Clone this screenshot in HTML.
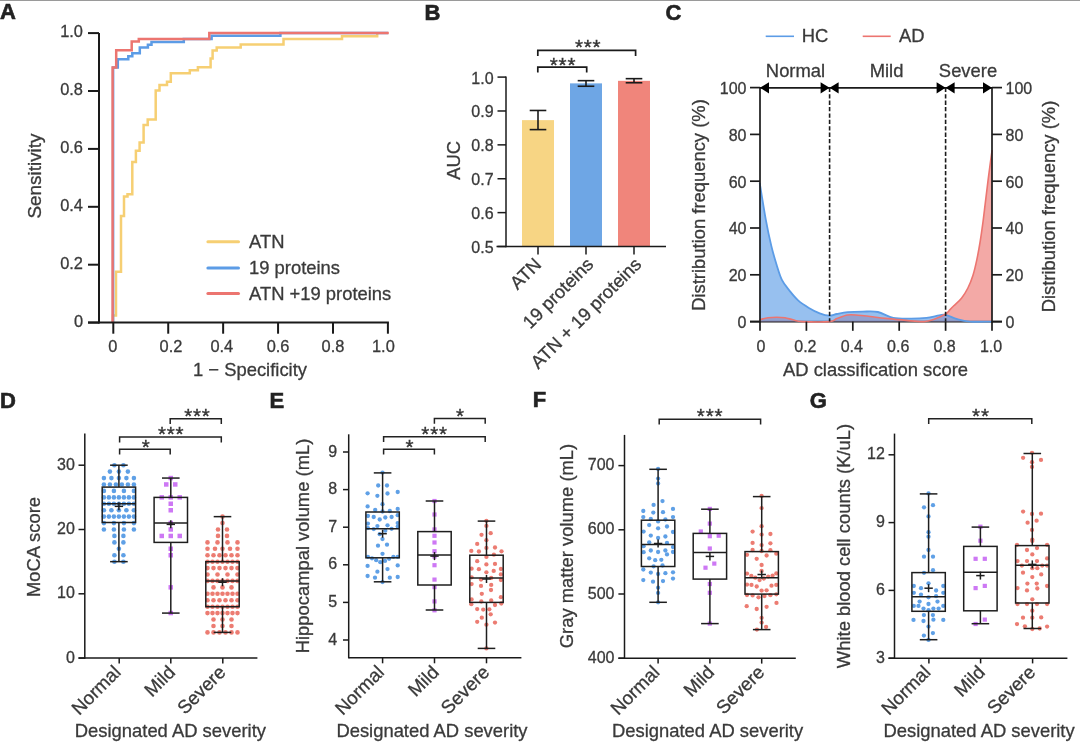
<!DOCTYPE html>
<html><head><meta charset="utf-8"><style>
html,body{margin:0;padding:0;background:#fff;}
svg{display:block;}
</style></head><body>
<svg width="1080" height="743" viewBox="0 0 1080 743" font-family="Liberation Sans, Arial, sans-serif">
<rect width="1080" height="743" fill="#fff"/>
<rect x="0.00" y="0.00" width="1080.00" height="1.00" fill="#9a9a9a" />
<text x="0.00" y="19.30" font-size="22" text-anchor="start" fill="#222" font-weight="bold" stroke="#222" stroke-width="0.6">A</text>
<path d="M113.00,322.60 L113.00,315.60 L116.00,315.60 L116.00,271.70 L121.00,271.70 L121.00,216.00 L124.00,216.00 L124.00,196.60 L127.50,196.60 L127.50,194.30 L132.00,194.30 L132.30,194.30 L132.30,162.10 L135.90,162.10 L135.90,150.80 L139.60,150.80 L139.60,142.40 L143.60,142.40 L143.60,124.90 L147.70,124.90 L147.70,119.50 L155.70,119.50 L155.70,90.40 L159.50,90.40 L159.50,85.00 L167.00,85.00 L167.00,81.80 L170.80,81.80 L170.80,73.20 L189.80,73.20 L189.80,70.20 L197.90,70.20 L197.90,67.20 L210.60,67.20 L210.60,58.60 L212.60,58.60 L212.60,50.50 L216.70,50.50 L216.70,47.40 L240.70,47.40 L240.70,44.60 L283.50,44.60 L283.50,38.90 L342.00,38.90 L342.00,36.20 L377.20,36.20 L377.20,33.10" stroke="#f6cf73" stroke-width="2.5" fill="none" />
<path d="M113.10,322.60 L113.10,67.40 L117.80,67.40 L117.80,59.30 L128.30,59.30 L128.30,56.30 L132.30,56.30 L132.30,53.30 L139.80,53.30 L139.80,47.60 L147.90,47.60 L147.90,44.80 L151.50,44.80 L151.50,42.00 L183.80,42.00 L183.80,38.90 L211.60,38.90 L211.60,35.80 L280.40,35.80 L280.40,33.10 L388.00,33.10" stroke="#5c9ce6" stroke-width="2.5" fill="none" />
<path d="M112.60,322.60 L112.60,67.40 L116.20,67.40 L116.20,50.20 L131.70,50.20 L131.70,41.60 L138.80,41.60 L138.80,38.90 L209.30,38.90 L209.30,33.10 L388.80,33.10" stroke="#ec7570" stroke-width="2.5" fill="none" />
<line x1="99.00" y1="33.10" x2="99.00" y2="323.50" stroke="#1a1a1a" stroke-width="2" />
<line x1="88.00" y1="322.60" x2="388.90" y2="322.60" stroke="#1a1a1a" stroke-width="2" />
<line x1="88.00" y1="322.60" x2="99.00" y2="322.60" stroke="#1a1a1a" stroke-width="2" />
<text x="83.00" y="326.80" font-size="16.4" text-anchor="end" fill="#3a3a3a"  stroke="#3a3a3a" stroke-width="0.3">0</text>
<line x1="113.30" y1="322.60" x2="113.30" y2="333.70" stroke="#1a1a1a" stroke-width="2" />
<text x="112.80" y="352.00" font-size="16.4" text-anchor="middle" fill="#3a3a3a"  stroke="#3a3a3a" stroke-width="0.3">0</text>
<line x1="88.00" y1="264.70" x2="99.00" y2="264.70" stroke="#1a1a1a" stroke-width="2" />
<text x="83.00" y="268.90" font-size="16.4" text-anchor="end" fill="#3a3a3a"  stroke="#3a3a3a" stroke-width="0.3">0.2</text>
<line x1="168.22" y1="322.60" x2="168.22" y2="333.70" stroke="#1a1a1a" stroke-width="2" />
<text x="171.02" y="352.00" font-size="16.4" text-anchor="middle" fill="#3a3a3a"  stroke="#3a3a3a" stroke-width="0.3">0.2</text>
<line x1="88.00" y1="206.80" x2="99.00" y2="206.80" stroke="#1a1a1a" stroke-width="2" />
<text x="83.00" y="211.00" font-size="16.4" text-anchor="end" fill="#3a3a3a"  stroke="#3a3a3a" stroke-width="0.3">0.4</text>
<line x1="223.14" y1="322.60" x2="223.14" y2="333.70" stroke="#1a1a1a" stroke-width="2" />
<text x="221.84" y="352.00" font-size="16.4" text-anchor="middle" fill="#3a3a3a"  stroke="#3a3a3a" stroke-width="0.3">0.4</text>
<line x1="88.00" y1="148.90" x2="99.00" y2="148.90" stroke="#1a1a1a" stroke-width="2" />
<text x="83.00" y="153.10" font-size="16.4" text-anchor="end" fill="#3a3a3a"  stroke="#3a3a3a" stroke-width="0.3">0.6</text>
<line x1="278.06" y1="322.60" x2="278.06" y2="333.70" stroke="#1a1a1a" stroke-width="2" />
<text x="278.06" y="352.00" font-size="16.4" text-anchor="middle" fill="#3a3a3a"  stroke="#3a3a3a" stroke-width="0.3">0.6</text>
<line x1="88.00" y1="91.00" x2="99.00" y2="91.00" stroke="#1a1a1a" stroke-width="2" />
<text x="83.00" y="95.20" font-size="16.4" text-anchor="end" fill="#3a3a3a"  stroke="#3a3a3a" stroke-width="0.3">0.8</text>
<line x1="332.98" y1="322.60" x2="332.98" y2="333.70" stroke="#1a1a1a" stroke-width="2" />
<text x="332.98" y="352.00" font-size="16.4" text-anchor="middle" fill="#3a3a3a"  stroke="#3a3a3a" stroke-width="0.3">0.8</text>
<line x1="88.00" y1="33.10" x2="99.00" y2="33.10" stroke="#1a1a1a" stroke-width="2" />
<text x="83.00" y="37.30" font-size="16.4" text-anchor="end" fill="#3a3a3a"  stroke="#3a3a3a" stroke-width="0.3">1.0</text>
<line x1="387.90" y1="322.60" x2="387.90" y2="333.70" stroke="#1a1a1a" stroke-width="2" />
<text x="383.40" y="352.00" font-size="16.4" text-anchor="middle" fill="#3a3a3a"  stroke="#3a3a3a" stroke-width="0.3">1.0</text>
<text x="250.00" y="376.20" font-size="18.4" text-anchor="middle" fill="#3a3a3a"  stroke="#3a3a3a" stroke-width="0.3">1 − Specificity</text>
<text x="40.60" y="176.00" font-size="18.9" text-anchor="middle" fill="#3a3a3a" transform="rotate(-90 40.60 176.00)"  stroke="#3a3a3a" stroke-width="0.3">Sensitivity</text>
<line x1="207.90" y1="241.70" x2="238.50" y2="241.70" stroke="#f6cf73" stroke-width="3" stroke-linecap="round"/>
<text x="249.00" y="247.70" font-size="18.4" text-anchor="start" fill="#3a3a3a"  stroke="#3a3a3a" stroke-width="0.3">ATN</text>
<line x1="207.90" y1="268.10" x2="238.50" y2="268.10" stroke="#5c9ce6" stroke-width="3" stroke-linecap="round"/>
<text x="249.00" y="274.10" font-size="18.4" text-anchor="start" fill="#3a3a3a"  stroke="#3a3a3a" stroke-width="0.3">19 proteins</text>
<line x1="207.90" y1="293.50" x2="238.50" y2="293.50" stroke="#ec7570" stroke-width="3" stroke-linecap="round"/>
<text x="249.00" y="299.50" font-size="18.4" text-anchor="start" fill="#3a3a3a"  stroke="#3a3a3a" stroke-width="0.3">ATN +19 proteins</text>
<text x="424.50" y="19.50" font-size="22" text-anchor="start" fill="#222" font-weight="bold" stroke="#222" stroke-width="0.6">B</text>
<rect x="522.00" y="120.13" width="32.00" height="126.37" fill="#f7d584" />
<line x1="538.00" y1="110.47" x2="538.00" y2="129.61" stroke="#1a1a1a" stroke-width="1.6" />
<line x1="529.70" y1="110.47" x2="546.30" y2="110.47" stroke="#1a1a1a" stroke-width="1.6" />
<line x1="529.70" y1="129.61" x2="546.30" y2="129.61" stroke="#1a1a1a" stroke-width="1.6" />
<rect x="570.00" y="83.37" width="32.00" height="163.13" fill="#6ea6e5" />
<line x1="586.00" y1="80.66" x2="586.00" y2="86.25" stroke="#1a1a1a" stroke-width="1.6" />
<line x1="577.70" y1="80.66" x2="594.30" y2="80.66" stroke="#1a1a1a" stroke-width="1.6" />
<line x1="577.70" y1="86.25" x2="594.30" y2="86.25" stroke="#1a1a1a" stroke-width="1.6" />
<rect x="618.00" y="80.83" width="32.00" height="165.67" fill="#f0857b" />
<line x1="634.00" y1="78.66" x2="634.00" y2="82.76" stroke="#1a1a1a" stroke-width="1.6" />
<line x1="625.70" y1="78.66" x2="642.30" y2="78.66" stroke="#1a1a1a" stroke-width="1.6" />
<line x1="625.70" y1="82.76" x2="642.30" y2="82.76" stroke="#1a1a1a" stroke-width="1.6" />
<line x1="506.00" y1="76.40" x2="506.00" y2="247.20" stroke="#1a1a1a" stroke-width="1.5" />
<line x1="496.50" y1="246.50" x2="666.00" y2="246.50" stroke="#1a1a1a" stroke-width="1.5" />
<line x1="497.50" y1="246.50" x2="506.00" y2="246.50" stroke="#1a1a1a" stroke-width="1.5" />
<text x="493.60" y="253.00" font-size="16" text-anchor="end" fill="#3a3a3a"  stroke="#3a3a3a" stroke-width="0.3">0.5</text>
<line x1="497.50" y1="212.62" x2="506.00" y2="212.62" stroke="#1a1a1a" stroke-width="1.5" />
<text x="493.60" y="219.12" font-size="16" text-anchor="end" fill="#3a3a3a"  stroke="#3a3a3a" stroke-width="0.3">0.6</text>
<line x1="497.50" y1="178.74" x2="506.00" y2="178.74" stroke="#1a1a1a" stroke-width="1.5" />
<text x="493.60" y="185.24" font-size="16" text-anchor="end" fill="#3a3a3a"  stroke="#3a3a3a" stroke-width="0.3">0.7</text>
<line x1="497.50" y1="144.86" x2="506.00" y2="144.86" stroke="#1a1a1a" stroke-width="1.5" />
<text x="493.60" y="151.36" font-size="16" text-anchor="end" fill="#3a3a3a"  stroke="#3a3a3a" stroke-width="0.3">0.8</text>
<line x1="497.50" y1="110.98" x2="506.00" y2="110.98" stroke="#1a1a1a" stroke-width="1.5" />
<text x="493.60" y="117.48" font-size="16" text-anchor="end" fill="#3a3a3a"  stroke="#3a3a3a" stroke-width="0.3">0.9</text>
<line x1="497.50" y1="77.10" x2="506.00" y2="77.10" stroke="#1a1a1a" stroke-width="1.5" />
<text x="493.60" y="83.60" font-size="16" text-anchor="end" fill="#3a3a3a"  stroke="#3a3a3a" stroke-width="0.3">1.0</text>
<line x1="538.00" y1="246.50" x2="538.00" y2="254.50" stroke="#1a1a1a" stroke-width="1.5" />
<text x="542.50" y="265.50" font-size="18.4" text-anchor="end" fill="#3a3a3a" transform="rotate(-45 542.50 265.50)"  stroke="#3a3a3a" stroke-width="0.3">ATN</text>
<line x1="586.00" y1="246.50" x2="586.00" y2="254.50" stroke="#1a1a1a" stroke-width="1.5" />
<text x="594.50" y="265.50" font-size="18.4" text-anchor="end" fill="#3a3a3a" transform="rotate(-45 594.50 265.50)"  stroke="#3a3a3a" stroke-width="0.3">19 proteins</text>
<line x1="634.00" y1="246.50" x2="634.00" y2="254.50" stroke="#1a1a1a" stroke-width="1.5" />
<text x="642.50" y="265.50" font-size="18.4" text-anchor="end" fill="#3a3a3a" transform="rotate(-45 642.50 265.50)"  stroke="#3a3a3a" stroke-width="0.3">ATN + 19 proteins</text>
<text x="460.00" y="160.40" font-size="18.4" text-anchor="middle" fill="#3a3a3a" transform="rotate(-90 460.00 160.40)"  stroke="#3a3a3a" stroke-width="0.3">AUC</text>
<path d="M537.8,72.6 L537.8,67.2 L586.7,67.2 L586.7,72.6" stroke="#1a1a1a" stroke-width="1.7" fill="none" />
<path d="M537.8,56.1 L537.8,50.3 L635.6,50.3 L635.6,56.1" stroke="#1a1a1a" stroke-width="1.7" fill="none" />
<text x="563.00" y="71.90" font-size="20.6" text-anchor="middle" fill="#333" letter-spacing="0.8" stroke="#333" stroke-width="0.35">***</text>
<text x="588.20" y="54.40" font-size="20.6" text-anchor="middle" fill="#333" letter-spacing="0.8" stroke="#333" stroke-width="0.35">***</text>
<text x="665.50" y="19.50" font-size="22" text-anchor="start" fill="#222" font-weight="bold" stroke="#222" stroke-width="0.6">C</text>
<line x1="765.70" y1="36.30" x2="794.00" y2="36.30" stroke="#5c9ce6" stroke-width="1.6" />
<text x="801.80" y="42.30" font-size="18.4" text-anchor="start" fill="#3a3a3a"  stroke="#3a3a3a" stroke-width="0.3">HC</text>
<line x1="862.70" y1="36.30" x2="890.70" y2="36.30" stroke="#ec7570" stroke-width="1.6" />
<text x="898.90" y="42.30" font-size="18.4" text-anchor="start" fill="#3a3a3a"  stroke="#3a3a3a" stroke-width="0.3">AD</text>
<line x1="750.00" y1="321.60" x2="1002.00" y2="321.60" stroke="#1a1a1a" stroke-width="1.7" />
<path d="M759.7,321.6 L759.70,319.80 C761.08,319.47 765.18,318.23 768.00,317.80 C770.82,317.37 773.77,317.20 776.60,317.20 C779.43,317.20 782.27,317.37 785.00,317.80 C787.73,318.23 790.10,319.17 793.00,319.80 C795.90,320.43 796.33,321.30 802.40,321.60 C808.47,321.90 823.65,322.12 829.40,321.60 C835.15,321.08 833.85,319.60 836.90,318.50 C839.95,317.40 844.18,315.55 847.70,315.00 C851.22,314.45 854.28,314.95 858.00,315.20 C861.72,315.45 865.40,315.97 870.00,316.50 C874.60,317.03 879.60,317.75 885.60,318.40 C891.60,319.05 899.60,319.87 906.00,320.40 C912.40,320.93 919.30,321.80 924.00,321.60 C928.70,321.40 930.58,320.47 934.20,319.20 C937.82,317.93 943.07,315.60 945.70,314.00 C948.33,312.40 948.65,310.97 950.00,309.60 C951.35,308.23 951.88,307.70 953.80,305.80 C955.72,303.90 959.15,301.17 961.50,298.20 C963.85,295.23 965.98,291.83 967.90,288.00 C969.82,284.17 971.52,279.88 973.00,275.20 C974.48,270.52 975.62,265.43 976.80,259.90 C977.98,254.37 979.12,247.95 980.10,242.00 C981.08,236.05 981.85,230.57 982.70,224.20 C983.55,217.83 984.27,211.45 985.20,203.80 C986.13,196.15 987.15,187.23 988.30,178.30 C989.45,169.37 991.47,154.88 992.10,150.20 L992.1,321.6 Z" fill="rgba(236,117,112,0.62)" stroke="none"/>
<path d="M759.7,321.6 L759.70,182.90 C760.72,189.02 763.88,209.18 765.80,219.60 C767.72,230.02 769.40,237.87 771.20,245.40 C773.00,252.93 774.82,259.05 776.60,264.80 C778.38,270.55 779.75,275.58 781.90,279.90 C784.05,284.22 786.80,287.28 789.50,290.70 C792.20,294.12 794.87,297.53 798.10,300.40 C801.33,303.27 805.30,305.75 808.90,307.90 C812.50,310.05 816.28,312.00 819.70,313.30 C823.12,314.60 826.53,315.58 829.40,315.70 C832.27,315.82 833.85,314.58 836.90,314.00 C839.95,313.42 843.38,312.60 847.70,312.20 C852.02,311.80 857.77,311.63 862.80,311.60 C867.83,311.57 872.82,310.95 877.90,312.00 C882.98,313.05 887.75,316.78 893.30,317.90 C898.85,319.02 905.67,318.70 911.20,318.70 C916.73,318.70 921.82,318.47 926.50,317.90 C931.18,317.33 936.10,315.82 939.30,315.30 C942.50,314.78 942.70,314.15 945.70,314.80 C948.70,315.45 953.25,318.07 957.30,319.20 C961.35,320.33 964.22,321.20 970.00,321.60 C975.78,322.00 988.33,321.60 992.00,321.60 L992.0,321.6 Z" fill="rgba(92,156,230,0.64)" stroke="none"/>
<path d="M759.70,182.90 C760.72,189.02 763.88,209.18 765.80,219.60 C767.72,230.02 769.40,237.87 771.20,245.40 C773.00,252.93 774.82,259.05 776.60,264.80 C778.38,270.55 779.75,275.58 781.90,279.90 C784.05,284.22 786.80,287.28 789.50,290.70 C792.20,294.12 794.87,297.53 798.10,300.40 C801.33,303.27 805.30,305.75 808.90,307.90 C812.50,310.05 816.28,312.00 819.70,313.30 C823.12,314.60 826.53,315.58 829.40,315.70 C832.27,315.82 833.85,314.58 836.90,314.00 C839.95,313.42 843.38,312.60 847.70,312.20 C852.02,311.80 857.77,311.63 862.80,311.60 C867.83,311.57 872.82,310.95 877.90,312.00 C882.98,313.05 887.75,316.78 893.30,317.90 C898.85,319.02 905.67,318.70 911.20,318.70 C916.73,318.70 921.82,318.47 926.50,317.90 C931.18,317.33 936.10,315.82 939.30,315.30 C942.50,314.78 942.70,314.15 945.70,314.80 C948.70,315.45 953.25,318.07 957.30,319.20 C961.35,320.33 964.22,321.20 970.00,321.60 C975.78,322.00 988.33,321.60 992.00,321.60" fill="none" stroke="#5c9ce6" stroke-width="1.8" stroke-linejoin="round"/>
<path d="M759.70,319.80 C761.08,319.47 765.18,318.23 768.00,317.80 C770.82,317.37 773.77,317.20 776.60,317.20 C779.43,317.20 782.27,317.37 785.00,317.80 C787.73,318.23 790.10,319.17 793.00,319.80 C795.90,320.43 796.33,321.30 802.40,321.60 C808.47,321.90 823.65,322.12 829.40,321.60 C835.15,321.08 833.85,319.60 836.90,318.50 C839.95,317.40 844.18,315.55 847.70,315.00 C851.22,314.45 854.28,314.95 858.00,315.20 C861.72,315.45 865.40,315.97 870.00,316.50 C874.60,317.03 879.60,317.75 885.60,318.40 C891.60,319.05 899.60,319.87 906.00,320.40 C912.40,320.93 919.30,321.80 924.00,321.60 C928.70,321.40 930.58,320.47 934.20,319.20 C937.82,317.93 943.07,315.60 945.70,314.00 C948.33,312.40 948.65,310.97 950.00,309.60 C951.35,308.23 951.88,307.70 953.80,305.80 C955.72,303.90 959.15,301.17 961.50,298.20 C963.85,295.23 965.98,291.83 967.90,288.00 C969.82,284.17 971.52,279.88 973.00,275.20 C974.48,270.52 975.62,265.43 976.80,259.90 C977.98,254.37 979.12,247.95 980.10,242.00 C981.08,236.05 981.85,230.57 982.70,224.20 C983.55,217.83 984.27,211.45 985.20,203.80 C986.13,196.15 987.15,187.23 988.30,178.30 C989.45,169.37 991.47,154.88 992.10,150.20" fill="none" stroke="#ec7570" stroke-width="1.6" stroke-linejoin="round"/>
<line x1="829.60" y1="87.80" x2="829.60" y2="321.60" stroke="#1a1a1a" stroke-width="1.6" stroke-dasharray="4.3,2.1"/>
<line x1="945.60" y1="87.80" x2="945.60" y2="321.60" stroke="#1a1a1a" stroke-width="1.6" stroke-dasharray="4.3,2.1"/>
<line x1="760.00" y1="87.80" x2="760.00" y2="322.40" stroke="#1a1a1a" stroke-width="1.7" />
<line x1="992.00" y1="87.80" x2="992.00" y2="322.40" stroke="#1a1a1a" stroke-width="1.7" />
<line x1="750.00" y1="321.60" x2="760.00" y2="321.60" stroke="#1a1a1a" stroke-width="1.7" />
<line x1="992.00" y1="321.60" x2="1002.00" y2="321.60" stroke="#1a1a1a" stroke-width="1.7" />
<text x="746.50" y="327.90" font-size="16" text-anchor="end" fill="#3a3a3a"  stroke="#3a3a3a" stroke-width="0.3">0</text>
<text x="1005.50" y="327.90" font-size="16" text-anchor="start" fill="#3a3a3a"  stroke="#3a3a3a" stroke-width="0.3">0</text>
<line x1="760.00" y1="321.60" x2="760.00" y2="330.80" stroke="#1a1a1a" stroke-width="1.7" />
<text x="761.00" y="352.00" font-size="16" text-anchor="middle" fill="#3a3a3a"  stroke="#3a3a3a" stroke-width="0.3">0</text>
<line x1="750.00" y1="274.80" x2="760.00" y2="274.80" stroke="#1a1a1a" stroke-width="1.7" />
<line x1="992.00" y1="274.80" x2="1002.00" y2="274.80" stroke="#1a1a1a" stroke-width="1.7" />
<text x="746.50" y="281.10" font-size="16" text-anchor="end" fill="#3a3a3a"  stroke="#3a3a3a" stroke-width="0.3">20</text>
<text x="1005.50" y="281.10" font-size="16" text-anchor="start" fill="#3a3a3a"  stroke="#3a3a3a" stroke-width="0.3">20</text>
<line x1="806.40" y1="321.60" x2="806.40" y2="330.80" stroke="#1a1a1a" stroke-width="1.7" />
<text x="805.40" y="352.00" font-size="16" text-anchor="middle" fill="#3a3a3a"  stroke="#3a3a3a" stroke-width="0.3">0.2</text>
<line x1="750.00" y1="228.00" x2="760.00" y2="228.00" stroke="#1a1a1a" stroke-width="1.7" />
<line x1="992.00" y1="228.00" x2="1002.00" y2="228.00" stroke="#1a1a1a" stroke-width="1.7" />
<text x="746.50" y="234.30" font-size="16" text-anchor="end" fill="#3a3a3a"  stroke="#3a3a3a" stroke-width="0.3">40</text>
<text x="1005.50" y="234.30" font-size="16" text-anchor="start" fill="#3a3a3a"  stroke="#3a3a3a" stroke-width="0.3">40</text>
<line x1="852.80" y1="321.60" x2="852.80" y2="330.80" stroke="#1a1a1a" stroke-width="1.7" />
<text x="851.80" y="352.00" font-size="16" text-anchor="middle" fill="#3a3a3a"  stroke="#3a3a3a" stroke-width="0.3">0.4</text>
<line x1="750.00" y1="181.20" x2="760.00" y2="181.20" stroke="#1a1a1a" stroke-width="1.7" />
<line x1="992.00" y1="181.20" x2="1002.00" y2="181.20" stroke="#1a1a1a" stroke-width="1.7" />
<text x="746.50" y="187.50" font-size="16" text-anchor="end" fill="#3a3a3a"  stroke="#3a3a3a" stroke-width="0.3">60</text>
<text x="1005.50" y="187.50" font-size="16" text-anchor="start" fill="#3a3a3a"  stroke="#3a3a3a" stroke-width="0.3">60</text>
<line x1="899.20" y1="321.60" x2="899.20" y2="330.80" stroke="#1a1a1a" stroke-width="1.7" />
<text x="898.20" y="352.00" font-size="16" text-anchor="middle" fill="#3a3a3a"  stroke="#3a3a3a" stroke-width="0.3">0.6</text>
<line x1="750.00" y1="134.40" x2="760.00" y2="134.40" stroke="#1a1a1a" stroke-width="1.7" />
<line x1="992.00" y1="134.40" x2="1002.00" y2="134.40" stroke="#1a1a1a" stroke-width="1.7" />
<text x="746.50" y="140.70" font-size="16" text-anchor="end" fill="#3a3a3a"  stroke="#3a3a3a" stroke-width="0.3">80</text>
<text x="1005.50" y="140.70" font-size="16" text-anchor="start" fill="#3a3a3a"  stroke="#3a3a3a" stroke-width="0.3">80</text>
<line x1="945.60" y1="321.60" x2="945.60" y2="330.80" stroke="#1a1a1a" stroke-width="1.7" />
<text x="944.60" y="352.00" font-size="16" text-anchor="middle" fill="#3a3a3a"  stroke="#3a3a3a" stroke-width="0.3">0.8</text>
<line x1="750.00" y1="87.60" x2="760.00" y2="87.60" stroke="#1a1a1a" stroke-width="1.7" />
<line x1="992.00" y1="87.60" x2="1002.00" y2="87.60" stroke="#1a1a1a" stroke-width="1.7" />
<text x="746.50" y="93.90" font-size="16" text-anchor="end" fill="#3a3a3a"  stroke="#3a3a3a" stroke-width="0.3">100</text>
<text x="1005.50" y="93.90" font-size="16" text-anchor="start" fill="#3a3a3a"  stroke="#3a3a3a" stroke-width="0.3">100</text>
<line x1="992.00" y1="321.60" x2="992.00" y2="330.80" stroke="#1a1a1a" stroke-width="1.7" />
<text x="991.00" y="352.00" font-size="16" text-anchor="middle" fill="#3a3a3a"  stroke="#3a3a3a" stroke-width="0.3">1.0</text>
<text x="875.50" y="376.30" font-size="18.4" text-anchor="middle" fill="#3a3a3a"  stroke="#3a3a3a" stroke-width="0.3">AD classification score</text>
<text x="704.50" y="205.00" font-size="18.4" text-anchor="middle" fill="#3a3a3a" transform="rotate(-90 704.50 205.00)"  stroke="#3a3a3a" stroke-width="0.3">Distribution frequency (%)</text>
<text x="1054.60" y="206.50" font-size="18.4" text-anchor="middle" fill="#3a3a3a" transform="rotate(-90 1054.60 206.50)"  stroke="#3a3a3a" stroke-width="0.3">Distribution frequency (%)</text>
<line x1="760.00" y1="87.80" x2="992.00" y2="87.80" stroke="#1a1a1a" stroke-width="1.7" />
<path d="M760.0,87.8 L769.0,82.2 L769.0,93.4 Z" fill="#000"/>
<path d="M829.6,87.8 L820.6,82.2 L820.6,93.4 Z" fill="#000"/>
<path d="M829.6,87.8 L838.6,82.2 L838.6,93.4 Z" fill="#000"/>
<path d="M945.6,87.8 L936.6,82.2 L936.6,93.4 Z" fill="#000"/>
<path d="M945.6,87.8 L954.6,82.2 L954.6,93.4 Z" fill="#000"/>
<path d="M992.0,87.8 L983.0,82.2 L983.0,93.4 Z" fill="#000"/>
<text x="795.50" y="77.00" font-size="18.4" text-anchor="middle" fill="#3a3a3a"  stroke="#3a3a3a" stroke-width="0.3">Normal</text>
<text x="886.60" y="77.00" font-size="18.4" text-anchor="middle" fill="#3a3a3a"  stroke="#3a3a3a" stroke-width="0.3">Mild</text>
<text x="968.00" y="77.00" font-size="18.4" text-anchor="middle" fill="#3a3a3a"  stroke="#3a3a3a" stroke-width="0.3">Severe</text>
<text x="0.00" y="407.80" font-size="22" text-anchor="start" fill="#222" font-weight="bold" stroke="#222" stroke-width="0.6">D</text>
<circle cx="114.4" cy="465.2" r="2.3" fill="#5fa0e6"/>
<circle cx="123.4" cy="465.2" r="2.3" fill="#5fa0e6"/>
<circle cx="109.9" cy="471.6" r="2.3" fill="#5fa0e6"/>
<circle cx="118.9" cy="471.6" r="2.3" fill="#5fa0e6"/>
<circle cx="127.9" cy="471.6" r="2.3" fill="#5fa0e6"/>
<circle cx="103.9" cy="478.1" r="2.3" fill="#5fa0e6"/>
<circle cx="111.4" cy="478.1" r="2.3" fill="#5fa0e6"/>
<circle cx="118.9" cy="478.1" r="2.3" fill="#5fa0e6"/>
<circle cx="126.4" cy="478.1" r="2.3" fill="#5fa0e6"/>
<circle cx="133.9" cy="478.1" r="2.3" fill="#5fa0e6"/>
<circle cx="103.9" cy="484.5" r="2.3" fill="#5fa0e6"/>
<circle cx="109.9" cy="484.5" r="2.3" fill="#5fa0e6"/>
<circle cx="115.9" cy="484.5" r="2.3" fill="#5fa0e6"/>
<circle cx="121.9" cy="484.5" r="2.3" fill="#5fa0e6"/>
<circle cx="127.9" cy="484.5" r="2.3" fill="#5fa0e6"/>
<circle cx="133.9" cy="484.5" r="2.3" fill="#5fa0e6"/>
<circle cx="103.9" cy="490.9" r="2.3" fill="#5fa0e6"/>
<circle cx="113.9" cy="490.9" r="2.3" fill="#5fa0e6"/>
<circle cx="123.9" cy="490.9" r="2.3" fill="#5fa0e6"/>
<circle cx="133.9" cy="490.9" r="2.3" fill="#5fa0e6"/>
<circle cx="103.9" cy="497.4" r="2.3" fill="#5fa0e6"/>
<circle cx="108.9" cy="497.4" r="2.3" fill="#5fa0e6"/>
<circle cx="113.9" cy="497.4" r="2.3" fill="#5fa0e6"/>
<circle cx="118.9" cy="497.4" r="2.3" fill="#5fa0e6"/>
<circle cx="123.9" cy="497.4" r="2.3" fill="#5fa0e6"/>
<circle cx="128.9" cy="497.4" r="2.3" fill="#5fa0e6"/>
<circle cx="133.9" cy="497.4" r="2.3" fill="#5fa0e6"/>
<circle cx="103.9" cy="503.8" r="2.3" fill="#5fa0e6"/>
<circle cx="108.9" cy="503.8" r="2.3" fill="#5fa0e6"/>
<circle cx="113.9" cy="503.8" r="2.3" fill="#5fa0e6"/>
<circle cx="118.9" cy="503.8" r="2.3" fill="#5fa0e6"/>
<circle cx="123.9" cy="503.8" r="2.3" fill="#5fa0e6"/>
<circle cx="128.9" cy="503.8" r="2.3" fill="#5fa0e6"/>
<circle cx="133.9" cy="503.8" r="2.3" fill="#5fa0e6"/>
<circle cx="103.9" cy="510.2" r="2.3" fill="#5fa0e6"/>
<circle cx="111.4" cy="510.2" r="2.3" fill="#5fa0e6"/>
<circle cx="118.9" cy="510.2" r="2.3" fill="#5fa0e6"/>
<circle cx="126.4" cy="510.2" r="2.3" fill="#5fa0e6"/>
<circle cx="133.9" cy="510.2" r="2.3" fill="#5fa0e6"/>
<circle cx="103.9" cy="516.6" r="2.3" fill="#5fa0e6"/>
<circle cx="108.9" cy="516.6" r="2.3" fill="#5fa0e6"/>
<circle cx="113.9" cy="516.6" r="2.3" fill="#5fa0e6"/>
<circle cx="118.9" cy="516.6" r="2.3" fill="#5fa0e6"/>
<circle cx="123.9" cy="516.6" r="2.3" fill="#5fa0e6"/>
<circle cx="128.9" cy="516.6" r="2.3" fill="#5fa0e6"/>
<circle cx="133.9" cy="516.6" r="2.3" fill="#5fa0e6"/>
<circle cx="103.9" cy="523.1" r="2.3" fill="#5fa0e6"/>
<circle cx="113.9" cy="523.1" r="2.3" fill="#5fa0e6"/>
<circle cx="123.9" cy="523.1" r="2.3" fill="#5fa0e6"/>
<circle cx="133.9" cy="523.1" r="2.3" fill="#5fa0e6"/>
<circle cx="103.9" cy="529.5" r="2.3" fill="#5fa0e6"/>
<circle cx="113.9" cy="529.5" r="2.3" fill="#5fa0e6"/>
<circle cx="123.9" cy="529.5" r="2.3" fill="#5fa0e6"/>
<circle cx="133.9" cy="529.5" r="2.3" fill="#5fa0e6"/>
<circle cx="114.4" cy="535.9" r="2.3" fill="#5fa0e6"/>
<circle cx="123.4" cy="535.9" r="2.3" fill="#5fa0e6"/>
<circle cx="114.4" cy="542.4" r="2.3" fill="#5fa0e6"/>
<circle cx="123.4" cy="542.4" r="2.3" fill="#5fa0e6"/>
<circle cx="118.9" cy="548.8" r="2.3" fill="#5fa0e6"/>
<circle cx="114.4" cy="555.2" r="2.3" fill="#5fa0e6"/>
<circle cx="123.4" cy="555.2" r="2.3" fill="#5fa0e6"/>
<circle cx="114.4" cy="561.7" r="2.3" fill="#5fa0e6"/>
<circle cx="123.4" cy="561.7" r="2.3" fill="#5fa0e6"/>
<rect x="168.5" y="475.8" width="4.5" height="4.5" fill="#cd78f4"/>
<rect x="164.0" y="482.2" width="4.5" height="4.5" fill="#cd78f4"/>
<rect x="173.0" y="482.2" width="4.5" height="4.5" fill="#cd78f4"/>
<rect x="159.5" y="495.1" width="4.5" height="4.5" fill="#cd78f4"/>
<rect x="168.5" y="495.1" width="4.5" height="4.5" fill="#cd78f4"/>
<rect x="177.5" y="495.1" width="4.5" height="4.5" fill="#cd78f4"/>
<rect x="168.5" y="501.5" width="4.5" height="4.5" fill="#cd78f4"/>
<rect x="168.5" y="508.0" width="4.5" height="4.5" fill="#cd78f4"/>
<rect x="168.5" y="520.8" width="4.5" height="4.5" fill="#cd78f4"/>
<rect x="168.5" y="527.2" width="4.5" height="4.5" fill="#cd78f4"/>
<rect x="159.5" y="533.7" width="4.5" height="4.5" fill="#cd78f4"/>
<rect x="168.5" y="533.7" width="4.5" height="4.5" fill="#cd78f4"/>
<rect x="177.5" y="533.7" width="4.5" height="4.5" fill="#cd78f4"/>
<rect x="168.5" y="546.5" width="4.5" height="4.5" fill="#cd78f4"/>
<rect x="168.5" y="553.0" width="4.5" height="4.5" fill="#cd78f4"/>
<rect x="168.5" y="585.1" width="4.5" height="4.5" fill="#cd78f4"/>
<rect x="168.5" y="610.8" width="4.5" height="4.5" fill="#cd78f4"/>
<circle cx="222.5" cy="516.6" r="2.3" fill="#ec7c72"/>
<circle cx="222.5" cy="523.1" r="2.3" fill="#ec7c72"/>
<circle cx="218.0" cy="529.5" r="2.3" fill="#ec7c72"/>
<circle cx="227.0" cy="529.5" r="2.3" fill="#ec7c72"/>
<circle cx="218.0" cy="535.9" r="2.3" fill="#ec7c72"/>
<circle cx="227.0" cy="535.9" r="2.3" fill="#ec7c72"/>
<circle cx="207.5" cy="542.4" r="2.3" fill="#ec7c72"/>
<circle cx="217.5" cy="542.4" r="2.3" fill="#ec7c72"/>
<circle cx="227.5" cy="542.4" r="2.3" fill="#ec7c72"/>
<circle cx="237.5" cy="542.4" r="2.3" fill="#ec7c72"/>
<circle cx="207.5" cy="548.8" r="2.3" fill="#ec7c72"/>
<circle cx="215.0" cy="548.8" r="2.3" fill="#ec7c72"/>
<circle cx="222.5" cy="548.8" r="2.3" fill="#ec7c72"/>
<circle cx="230.0" cy="548.8" r="2.3" fill="#ec7c72"/>
<circle cx="237.5" cy="548.8" r="2.3" fill="#ec7c72"/>
<circle cx="207.5" cy="555.2" r="2.3" fill="#ec7c72"/>
<circle cx="213.5" cy="555.2" r="2.3" fill="#ec7c72"/>
<circle cx="219.5" cy="555.2" r="2.3" fill="#ec7c72"/>
<circle cx="225.5" cy="555.2" r="2.3" fill="#ec7c72"/>
<circle cx="231.5" cy="555.2" r="2.3" fill="#ec7c72"/>
<circle cx="237.5" cy="555.2" r="2.3" fill="#ec7c72"/>
<circle cx="207.5" cy="561.7" r="2.3" fill="#ec7c72"/>
<circle cx="212.5" cy="561.7" r="2.3" fill="#ec7c72"/>
<circle cx="217.5" cy="561.7" r="2.3" fill="#ec7c72"/>
<circle cx="222.5" cy="561.7" r="2.3" fill="#ec7c72"/>
<circle cx="227.5" cy="561.7" r="2.3" fill="#ec7c72"/>
<circle cx="232.5" cy="561.7" r="2.3" fill="#ec7c72"/>
<circle cx="237.5" cy="561.7" r="2.3" fill="#ec7c72"/>
<circle cx="207.5" cy="568.1" r="2.3" fill="#ec7c72"/>
<circle cx="213.5" cy="568.1" r="2.3" fill="#ec7c72"/>
<circle cx="219.5" cy="568.1" r="2.3" fill="#ec7c72"/>
<circle cx="225.5" cy="568.1" r="2.3" fill="#ec7c72"/>
<circle cx="231.5" cy="568.1" r="2.3" fill="#ec7c72"/>
<circle cx="237.5" cy="568.1" r="2.3" fill="#ec7c72"/>
<circle cx="207.5" cy="574.5" r="2.3" fill="#ec7c72"/>
<circle cx="217.5" cy="574.5" r="2.3" fill="#ec7c72"/>
<circle cx="227.5" cy="574.5" r="2.3" fill="#ec7c72"/>
<circle cx="237.5" cy="574.5" r="2.3" fill="#ec7c72"/>
<circle cx="207.5" cy="580.9" r="2.3" fill="#ec7c72"/>
<circle cx="212.5" cy="580.9" r="2.3" fill="#ec7c72"/>
<circle cx="217.5" cy="580.9" r="2.3" fill="#ec7c72"/>
<circle cx="222.5" cy="580.9" r="2.3" fill="#ec7c72"/>
<circle cx="227.5" cy="580.9" r="2.3" fill="#ec7c72"/>
<circle cx="232.5" cy="580.9" r="2.3" fill="#ec7c72"/>
<circle cx="237.5" cy="580.9" r="2.3" fill="#ec7c72"/>
<circle cx="213.5" cy="587.4" r="2.3" fill="#ec7c72"/>
<circle cx="222.5" cy="587.4" r="2.3" fill="#ec7c72"/>
<circle cx="231.5" cy="587.4" r="2.3" fill="#ec7c72"/>
<circle cx="207.5" cy="593.8" r="2.3" fill="#ec7c72"/>
<circle cx="212.5" cy="593.8" r="2.3" fill="#ec7c72"/>
<circle cx="217.5" cy="593.8" r="2.3" fill="#ec7c72"/>
<circle cx="222.5" cy="593.8" r="2.3" fill="#ec7c72"/>
<circle cx="227.5" cy="593.8" r="2.3" fill="#ec7c72"/>
<circle cx="232.5" cy="593.8" r="2.3" fill="#ec7c72"/>
<circle cx="237.5" cy="593.8" r="2.3" fill="#ec7c72"/>
<circle cx="207.5" cy="600.2" r="2.3" fill="#ec7c72"/>
<circle cx="213.5" cy="600.2" r="2.3" fill="#ec7c72"/>
<circle cx="219.5" cy="600.2" r="2.3" fill="#ec7c72"/>
<circle cx="225.5" cy="600.2" r="2.3" fill="#ec7c72"/>
<circle cx="231.5" cy="600.2" r="2.3" fill="#ec7c72"/>
<circle cx="237.5" cy="600.2" r="2.3" fill="#ec7c72"/>
<circle cx="207.5" cy="606.7" r="2.3" fill="#ec7c72"/>
<circle cx="212.5" cy="606.7" r="2.3" fill="#ec7c72"/>
<circle cx="217.5" cy="606.7" r="2.3" fill="#ec7c72"/>
<circle cx="222.5" cy="606.7" r="2.3" fill="#ec7c72"/>
<circle cx="227.5" cy="606.7" r="2.3" fill="#ec7c72"/>
<circle cx="232.5" cy="606.7" r="2.3" fill="#ec7c72"/>
<circle cx="237.5" cy="606.7" r="2.3" fill="#ec7c72"/>
<circle cx="207.5" cy="613.1" r="2.3" fill="#ec7c72"/>
<circle cx="212.5" cy="613.1" r="2.3" fill="#ec7c72"/>
<circle cx="217.5" cy="613.1" r="2.3" fill="#ec7c72"/>
<circle cx="222.5" cy="613.1" r="2.3" fill="#ec7c72"/>
<circle cx="227.5" cy="613.1" r="2.3" fill="#ec7c72"/>
<circle cx="232.5" cy="613.1" r="2.3" fill="#ec7c72"/>
<circle cx="237.5" cy="613.1" r="2.3" fill="#ec7c72"/>
<circle cx="213.5" cy="619.5" r="2.3" fill="#ec7c72"/>
<circle cx="222.5" cy="619.5" r="2.3" fill="#ec7c72"/>
<circle cx="231.5" cy="619.5" r="2.3" fill="#ec7c72"/>
<circle cx="213.5" cy="626.0" r="2.3" fill="#ec7c72"/>
<circle cx="222.5" cy="626.0" r="2.3" fill="#ec7c72"/>
<circle cx="231.5" cy="626.0" r="2.3" fill="#ec7c72"/>
<circle cx="207.5" cy="632.4" r="2.3" fill="#ec7c72"/>
<circle cx="213.5" cy="632.4" r="2.3" fill="#ec7c72"/>
<circle cx="219.5" cy="632.4" r="2.3" fill="#ec7c72"/>
<circle cx="225.5" cy="632.4" r="2.3" fill="#ec7c72"/>
<circle cx="231.5" cy="632.4" r="2.3" fill="#ec7c72"/>
<circle cx="237.5" cy="632.4" r="2.3" fill="#ec7c72"/>
<line x1="118.90" y1="465.20" x2="118.90" y2="487.06" stroke="#1e1e1e" stroke-width="1.5" />
<line x1="118.90" y1="522.43" x2="118.90" y2="561.65" stroke="#1e1e1e" stroke-width="1.5" />
<line x1="110.10" y1="465.20" x2="127.70" y2="465.20" stroke="#1e1e1e" stroke-width="1.5" />
<line x1="110.10" y1="561.65" x2="127.70" y2="561.65" stroke="#1e1e1e" stroke-width="1.5" />
<rect x="102.2" y="487.1" width="33.4" height="35.4" fill="none" stroke="#1e1e1e" stroke-width="1.5"/>
<line x1="102.20" y1="503.78" x2="135.60" y2="503.78" stroke="#1e1e1e" stroke-width="1.5" />
<line x1="114.70" y1="506.35" x2="123.10" y2="506.35" stroke="#1e1e1e" stroke-width="1.5" />
<line x1="118.90" y1="502.35" x2="118.90" y2="510.35" stroke="#1e1e1e" stroke-width="1.5" />
<line x1="170.80" y1="478.06" x2="170.80" y2="497.35" stroke="#1e1e1e" stroke-width="1.5" />
<line x1="170.80" y1="542.36" x2="170.80" y2="613.09" stroke="#1e1e1e" stroke-width="1.5" />
<line x1="162.00" y1="478.06" x2="179.60" y2="478.06" stroke="#1e1e1e" stroke-width="1.5" />
<line x1="162.00" y1="613.09" x2="179.60" y2="613.09" stroke="#1e1e1e" stroke-width="1.5" />
<rect x="154.1" y="497.4" width="33.4" height="45.0" fill="none" stroke="#1e1e1e" stroke-width="1.5"/>
<line x1="154.10" y1="523.07" x2="187.50" y2="523.07" stroke="#1e1e1e" stroke-width="1.5" />
<line x1="166.60" y1="524.36" x2="175.00" y2="524.36" stroke="#1e1e1e" stroke-width="1.5" />
<line x1="170.80" y1="520.36" x2="170.80" y2="528.36" stroke="#1e1e1e" stroke-width="1.5" />
<line x1="222.50" y1="516.64" x2="222.50" y2="561.65" stroke="#1e1e1e" stroke-width="1.5" />
<line x1="222.50" y1="606.66" x2="222.50" y2="632.38" stroke="#1e1e1e" stroke-width="1.5" />
<line x1="213.70" y1="516.64" x2="231.30" y2="516.64" stroke="#1e1e1e" stroke-width="1.5" />
<line x1="213.70" y1="632.38" x2="231.30" y2="632.38" stroke="#1e1e1e" stroke-width="1.5" />
<rect x="205.8" y="561.7" width="33.4" height="45.0" fill="none" stroke="#1e1e1e" stroke-width="1.5"/>
<line x1="205.80" y1="580.94" x2="239.20" y2="580.94" stroke="#1e1e1e" stroke-width="1.5" />
<line x1="218.30" y1="582.23" x2="226.70" y2="582.23" stroke="#1e1e1e" stroke-width="1.5" />
<line x1="222.50" y1="578.23" x2="222.50" y2="586.23" stroke="#1e1e1e" stroke-width="1.5" />
<line x1="84.80" y1="433.40" x2="84.80" y2="658.80" stroke="#1a1a1a" stroke-width="1.5" />
<line x1="78.50" y1="658.10" x2="257.40" y2="658.10" stroke="#1a1a1a" stroke-width="1.5" />
<line x1="78.50" y1="658.10" x2="84.80" y2="658.10" stroke="#1a1a1a" stroke-width="1.5" />
<text x="74.80" y="662.60" font-size="16" text-anchor="end" fill="#3a3a3a"  stroke="#3a3a3a" stroke-width="0.3">0</text>
<line x1="78.50" y1="593.80" x2="84.80" y2="593.80" stroke="#1a1a1a" stroke-width="1.5" />
<text x="74.80" y="598.30" font-size="16" text-anchor="end" fill="#3a3a3a"  stroke="#3a3a3a" stroke-width="0.3">10</text>
<line x1="78.50" y1="529.50" x2="84.80" y2="529.50" stroke="#1a1a1a" stroke-width="1.5" />
<text x="74.80" y="534.00" font-size="16" text-anchor="end" fill="#3a3a3a"  stroke="#3a3a3a" stroke-width="0.3">20</text>
<line x1="78.50" y1="465.20" x2="84.80" y2="465.20" stroke="#1a1a1a" stroke-width="1.5" />
<text x="74.80" y="469.70" font-size="16" text-anchor="end" fill="#3a3a3a"  stroke="#3a3a3a" stroke-width="0.3">30</text>
<line x1="119.20" y1="658.10" x2="119.20" y2="663.60" stroke="#1a1a1a" stroke-width="1.5" />
<line x1="170.80" y1="658.10" x2="170.80" y2="663.60" stroke="#1a1a1a" stroke-width="1.5" />
<line x1="222.80" y1="658.10" x2="222.80" y2="663.60" stroke="#1a1a1a" stroke-width="1.5" />
<text x="121.90" y="673.40" font-size="18.7" text-anchor="end" fill="#3a3a3a" transform="rotate(-45 121.90 673.40)"  stroke="#3a3a3a" stroke-width="0.3">Normal</text>
<text x="176.30" y="673.40" font-size="18.7" text-anchor="end" fill="#3a3a3a" transform="rotate(-45 176.30 673.40)"  stroke="#3a3a3a" stroke-width="0.3">Mild</text>
<text x="226.80" y="673.40" font-size="18.7" text-anchor="end" fill="#3a3a3a" transform="rotate(-45 226.80 673.40)"  stroke="#3a3a3a" stroke-width="0.3">Severe</text>
<text x="40.20" y="547.00" font-size="18.4" text-anchor="middle" fill="#3a3a3a" transform="rotate(-90 40.20 547.00)"  stroke="#3a3a3a" stroke-width="0.3">MoCA score</text>
<text x="74.80" y="736.90" font-size="18.4" text-anchor="start" fill="#3a3a3a"  stroke="#3a3a3a" stroke-width="0.3">Designated AD severity</text>
<path d="M170.2,424.0 L170.2,418.7 L221.3,418.7 L221.3,424.0" stroke="#222" stroke-width="1.5" fill="none" />
<path d="M119.6,442.4 L119.6,437.1 L221.3,437.1 L221.3,442.4" stroke="#222" stroke-width="1.5" fill="none" />
<path d="M119.6,454.6 L119.6,449.3 L170.2,449.3 L170.2,454.6" stroke="#222" stroke-width="1.5" fill="none" />
<text x="197.40" y="422.80" font-size="20.6" text-anchor="middle" fill="#333" letter-spacing="0.8" stroke="#333" stroke-width="0.35">***</text>
<text x="171.20" y="441.10" font-size="20.6" text-anchor="middle" fill="#333" letter-spacing="0.8" stroke="#333" stroke-width="0.35">***</text>
<text x="146.10" y="453.50" font-size="20.6" text-anchor="middle" fill="#333" letter-spacing="0.8" stroke="#333" stroke-width="0.35">*</text>
<text x="269.50" y="407.70" font-size="22" text-anchor="start" fill="#222" font-weight="bold" stroke="#222" stroke-width="0.6">E</text>
<circle cx="382.5" cy="472.6" r="2.15" fill="#5fa0e6"/>
<circle cx="378.2" cy="485.5" r="2.15" fill="#5fa0e6"/>
<circle cx="387.0" cy="485.5" r="2.15" fill="#5fa0e6"/>
<circle cx="367.6" cy="493.3" r="2.15" fill="#5fa0e6"/>
<circle cx="377.4" cy="495.8" r="2.15" fill="#5fa0e6"/>
<circle cx="387.5" cy="493.5" r="2.15" fill="#5fa0e6"/>
<circle cx="397.7" cy="492.0" r="2.15" fill="#5fa0e6"/>
<circle cx="382.5" cy="504.2" r="2.15" fill="#5fa0e6"/>
<circle cx="367.6" cy="506.4" r="2.15" fill="#5fa0e6"/>
<circle cx="375.2" cy="510.0" r="2.15" fill="#5fa0e6"/>
<circle cx="382.5" cy="511.5" r="2.15" fill="#5fa0e6"/>
<circle cx="389.8" cy="511.0" r="2.15" fill="#5fa0e6"/>
<circle cx="397.7" cy="508.9" r="2.15" fill="#5fa0e6"/>
<circle cx="367.9" cy="516.0" r="2.15" fill="#5fa0e6"/>
<circle cx="373.7" cy="517.0" r="2.15" fill="#5fa0e6"/>
<circle cx="379.7" cy="519.5" r="2.15" fill="#5fa0e6"/>
<circle cx="385.3" cy="517.5" r="2.15" fill="#5fa0e6"/>
<circle cx="391.6" cy="517.0" r="2.15" fill="#5fa0e6"/>
<circle cx="397.7" cy="515.2" r="2.15" fill="#5fa0e6"/>
<circle cx="367.9" cy="523.6" r="2.15" fill="#5fa0e6"/>
<circle cx="377.4" cy="526.1" r="2.15" fill="#5fa0e6"/>
<circle cx="387.5" cy="525.3" r="2.15" fill="#5fa0e6"/>
<circle cx="397.7" cy="523.1" r="2.15" fill="#5fa0e6"/>
<circle cx="367.9" cy="528.1" r="2.15" fill="#5fa0e6"/>
<circle cx="373.7" cy="529.1" r="2.15" fill="#5fa0e6"/>
<circle cx="385.3" cy="530.7" r="2.15" fill="#5fa0e6"/>
<circle cx="391.6" cy="528.8" r="2.15" fill="#5fa0e6"/>
<circle cx="397.7" cy="526.6" r="2.15" fill="#5fa0e6"/>
<circle cx="379.7" cy="534.2" r="2.15" fill="#5fa0e6"/>
<circle cx="382.5" cy="539.1" r="2.15" fill="#5fa0e6"/>
<circle cx="378.0" cy="545.7" r="2.15" fill="#5fa0e6"/>
<circle cx="387.0" cy="544.7" r="2.15" fill="#5fa0e6"/>
<circle cx="382.5" cy="553.8" r="2.15" fill="#5fa0e6"/>
<circle cx="367.9" cy="556.8" r="2.15" fill="#5fa0e6"/>
<circle cx="372.0" cy="558.3" r="2.15" fill="#5fa0e6"/>
<circle cx="376.2" cy="560.2" r="2.15" fill="#5fa0e6"/>
<circle cx="380.3" cy="562.2" r="2.15" fill="#5fa0e6"/>
<circle cx="385.0" cy="560.9" r="2.15" fill="#5fa0e6"/>
<circle cx="389.1" cy="558.8" r="2.15" fill="#5fa0e6"/>
<circle cx="393.4" cy="556.8" r="2.15" fill="#5fa0e6"/>
<circle cx="397.7" cy="556.8" r="2.15" fill="#5fa0e6"/>
<circle cx="367.6" cy="565.9" r="2.15" fill="#5fa0e6"/>
<circle cx="397.7" cy="565.4" r="2.15" fill="#5fa0e6"/>
<circle cx="377.4" cy="571.7" r="2.15" fill="#5fa0e6"/>
<circle cx="387.5" cy="569.1" r="2.15" fill="#5fa0e6"/>
<circle cx="367.6" cy="576.0" r="2.15" fill="#5fa0e6"/>
<circle cx="375.0" cy="577.7" r="2.15" fill="#5fa0e6"/>
<circle cx="389.8" cy="577.7" r="2.15" fill="#5fa0e6"/>
<circle cx="397.7" cy="577.0" r="2.15" fill="#5fa0e6"/>
<circle cx="382.5" cy="582.1" r="2.15" fill="#5fa0e6"/>
<rect x="432.4" y="498.9" width="4.2" height="4.2" fill="#cd78f4"/>
<rect x="432.4" y="512.4" width="4.2" height="4.2" fill="#cd78f4"/>
<rect x="432.4" y="527.3" width="4.2" height="4.2" fill="#cd78f4"/>
<rect x="432.4" y="533.7" width="4.2" height="4.2" fill="#cd78f4"/>
<rect x="432.4" y="540.4" width="4.2" height="4.2" fill="#cd78f4"/>
<rect x="432.4" y="549.1" width="4.2" height="4.2" fill="#cd78f4"/>
<rect x="432.4" y="554.4" width="4.2" height="4.2" fill="#cd78f4"/>
<rect x="432.4" y="563.1" width="4.2" height="4.2" fill="#cd78f4"/>
<rect x="432.4" y="577.5" width="4.2" height="4.2" fill="#cd78f4"/>
<rect x="432.4" y="585.0" width="4.2" height="4.2" fill="#cd78f4"/>
<rect x="432.4" y="599.3" width="4.2" height="4.2" fill="#cd78f4"/>
<rect x="432.4" y="608.2" width="4.2" height="4.2" fill="#cd78f4"/>
<circle cx="486.4" cy="520.8" r="2.15" fill="#ec7c72"/>
<circle cx="486.4" cy="525.9" r="2.15" fill="#ec7c72"/>
<circle cx="481.5" cy="534.8" r="2.15" fill="#ec7c72"/>
<circle cx="490.7" cy="533.2" r="2.15" fill="#ec7c72"/>
<circle cx="486.4" cy="540.2" r="2.15" fill="#ec7c72"/>
<circle cx="477.2" cy="543.9" r="2.15" fill="#ec7c72"/>
<circle cx="486.4" cy="547.9" r="2.15" fill="#ec7c72"/>
<circle cx="495.0" cy="547.5" r="2.15" fill="#ec7c72"/>
<circle cx="471.3" cy="550.9" r="2.15" fill="#ec7c72"/>
<circle cx="478.9" cy="551.5" r="2.15" fill="#ec7c72"/>
<circle cx="501.5" cy="551.3" r="2.15" fill="#ec7c72"/>
<circle cx="493.9" cy="554.7" r="2.15" fill="#ec7c72"/>
<circle cx="486.4" cy="556.9" r="2.15" fill="#ec7c72"/>
<circle cx="477.2" cy="561.2" r="2.15" fill="#ec7c72"/>
<circle cx="486.4" cy="564.4" r="2.15" fill="#ec7c72"/>
<circle cx="495.0" cy="563.9" r="2.15" fill="#ec7c72"/>
<circle cx="471.6" cy="568.7" r="2.15" fill="#ec7c72"/>
<circle cx="478.9" cy="569.2" r="2.15" fill="#ec7c72"/>
<circle cx="486.4" cy="572.3" r="2.15" fill="#ec7c72"/>
<circle cx="493.7" cy="570.9" r="2.15" fill="#ec7c72"/>
<circle cx="500.9" cy="569.0" r="2.15" fill="#ec7c72"/>
<circle cx="500.9" cy="574.4" r="2.15" fill="#ec7c72"/>
<circle cx="471.6" cy="577.3" r="2.15" fill="#ec7c72"/>
<circle cx="481.0" cy="579.5" r="2.15" fill="#ec7c72"/>
<circle cx="491.2" cy="577.9" r="2.15" fill="#ec7c72"/>
<circle cx="500.9" cy="580.0" r="2.15" fill="#ec7c72"/>
<circle cx="471.6" cy="584.1" r="2.15" fill="#ec7c72"/>
<circle cx="481.0" cy="585.9" r="2.15" fill="#ec7c72"/>
<circle cx="491.2" cy="584.9" r="2.15" fill="#ec7c72"/>
<circle cx="491.0" cy="590.0" r="2.15" fill="#ec7c72"/>
<circle cx="481.8" cy="593.8" r="2.15" fill="#ec7c72"/>
<circle cx="471.6" cy="599.4" r="2.15" fill="#ec7c72"/>
<circle cx="500.9" cy="597.2" r="2.15" fill="#ec7c72"/>
<circle cx="481.3" cy="601.5" r="2.15" fill="#ec7c72"/>
<circle cx="491.2" cy="600.5" r="2.15" fill="#ec7c72"/>
<circle cx="471.3" cy="604.2" r="2.15" fill="#ec7c72"/>
<circle cx="495.0" cy="605.0" r="2.15" fill="#ec7c72"/>
<circle cx="501.3" cy="603.5" r="2.15" fill="#ec7c72"/>
<circle cx="477.2" cy="609.1" r="2.15" fill="#ec7c72"/>
<circle cx="483.2" cy="609.6" r="2.15" fill="#ec7c72"/>
<circle cx="489.3" cy="609.3" r="2.15" fill="#ec7c72"/>
<circle cx="490.7" cy="614.3" r="2.15" fill="#ec7c72"/>
<circle cx="481.8" cy="617.7" r="2.15" fill="#ec7c72"/>
<circle cx="477.2" cy="621.8" r="2.15" fill="#ec7c72"/>
<circle cx="495.0" cy="622.6" r="2.15" fill="#ec7c72"/>
<circle cx="486.4" cy="624.7" r="2.15" fill="#ec7c72"/>
<circle cx="486.4" cy="648.4" r="2.15" fill="#ec7c72"/>
<line x1="382.60" y1="472.90" x2="382.60" y2="512.00" stroke="#1e1e1e" stroke-width="1.5" />
<line x1="382.60" y1="557.80" x2="382.60" y2="581.80" stroke="#1e1e1e" stroke-width="1.5" />
<line x1="373.80" y1="472.90" x2="391.40" y2="472.90" stroke="#1e1e1e" stroke-width="1.5" />
<line x1="373.80" y1="581.80" x2="391.40" y2="581.80" stroke="#1e1e1e" stroke-width="1.5" />
<rect x="365.9" y="512.0" width="33.4" height="45.8" fill="none" stroke="#1e1e1e" stroke-width="1.5"/>
<line x1="365.90" y1="528.80" x2="399.30" y2="528.80" stroke="#1e1e1e" stroke-width="1.5" />
<line x1="378.40" y1="533.70" x2="386.80" y2="533.70" stroke="#1e1e1e" stroke-width="1.5" />
<line x1="382.60" y1="529.70" x2="382.60" y2="537.70" stroke="#1e1e1e" stroke-width="1.5" />
<line x1="434.50" y1="501.00" x2="434.50" y2="531.60" stroke="#1e1e1e" stroke-width="1.5" />
<line x1="434.50" y1="585.00" x2="434.50" y2="610.00" stroke="#1e1e1e" stroke-width="1.5" />
<line x1="425.70" y1="501.00" x2="443.30" y2="501.00" stroke="#1e1e1e" stroke-width="1.5" />
<line x1="425.70" y1="610.00" x2="443.30" y2="610.00" stroke="#1e1e1e" stroke-width="1.5" />
<rect x="417.8" y="531.6" width="33.4" height="53.4" fill="none" stroke="#1e1e1e" stroke-width="1.5"/>
<line x1="417.80" y1="555.10" x2="451.20" y2="555.10" stroke="#1e1e1e" stroke-width="1.5" />
<line x1="430.30" y1="556.10" x2="438.70" y2="556.10" stroke="#1e1e1e" stroke-width="1.5" />
<line x1="434.50" y1="552.10" x2="434.50" y2="560.10" stroke="#1e1e1e" stroke-width="1.5" />
<line x1="486.50" y1="521.10" x2="486.50" y2="555.20" stroke="#1e1e1e" stroke-width="1.5" />
<line x1="486.50" y1="602.40" x2="486.50" y2="648.40" stroke="#1e1e1e" stroke-width="1.5" />
<line x1="477.70" y1="521.10" x2="495.30" y2="521.10" stroke="#1e1e1e" stroke-width="1.5" />
<line x1="477.70" y1="648.40" x2="495.30" y2="648.40" stroke="#1e1e1e" stroke-width="1.5" />
<rect x="469.8" y="555.2" width="33.4" height="47.2" fill="none" stroke="#1e1e1e" stroke-width="1.5"/>
<line x1="469.80" y1="577.90" x2="503.20" y2="577.90" stroke="#1e1e1e" stroke-width="1.5" />
<line x1="482.30" y1="579.00" x2="490.70" y2="579.00" stroke="#1e1e1e" stroke-width="1.5" />
<line x1="486.50" y1="575.00" x2="486.50" y2="583.00" stroke="#1e1e1e" stroke-width="1.5" />
<line x1="348.70" y1="434.30" x2="348.70" y2="658.40" stroke="#1a1a1a" stroke-width="1.5" />
<line x1="348.70" y1="657.70" x2="521.40" y2="657.70" stroke="#1a1a1a" stroke-width="1.5" />
<line x1="343.00" y1="640.00" x2="348.70" y2="640.00" stroke="#1a1a1a" stroke-width="1.5" />
<text x="337.20" y="644.50" font-size="16" text-anchor="end" fill="#3a3a3a"  stroke="#3a3a3a" stroke-width="0.3">4</text>
<line x1="343.00" y1="602.40" x2="348.70" y2="602.40" stroke="#1a1a1a" stroke-width="1.5" />
<text x="337.20" y="606.90" font-size="16" text-anchor="end" fill="#3a3a3a"  stroke="#3a3a3a" stroke-width="0.3">5</text>
<line x1="343.00" y1="564.80" x2="348.70" y2="564.80" stroke="#1a1a1a" stroke-width="1.5" />
<text x="337.20" y="569.30" font-size="16" text-anchor="end" fill="#3a3a3a"  stroke="#3a3a3a" stroke-width="0.3">6</text>
<line x1="343.00" y1="527.20" x2="348.70" y2="527.20" stroke="#1a1a1a" stroke-width="1.5" />
<text x="337.20" y="531.70" font-size="16" text-anchor="end" fill="#3a3a3a"  stroke="#3a3a3a" stroke-width="0.3">7</text>
<line x1="343.00" y1="489.60" x2="348.70" y2="489.60" stroke="#1a1a1a" stroke-width="1.5" />
<text x="337.20" y="494.10" font-size="16" text-anchor="end" fill="#3a3a3a"  stroke="#3a3a3a" stroke-width="0.3">8</text>
<line x1="343.00" y1="452.00" x2="348.70" y2="452.00" stroke="#1a1a1a" stroke-width="1.5" />
<text x="337.20" y="456.50" font-size="16" text-anchor="end" fill="#3a3a3a"  stroke="#3a3a3a" stroke-width="0.3">9</text>
<line x1="382.60" y1="657.70" x2="382.60" y2="663.30" stroke="#1a1a1a" stroke-width="1.5" />
<line x1="434.50" y1="657.70" x2="434.50" y2="663.30" stroke="#1a1a1a" stroke-width="1.5" />
<line x1="486.50" y1="657.70" x2="486.50" y2="663.30" stroke="#1a1a1a" stroke-width="1.5" />
<text x="385.30" y="673.40" font-size="18.7" text-anchor="end" fill="#3a3a3a" transform="rotate(-45 385.30 673.40)"  stroke="#3a3a3a" stroke-width="0.3">Normal</text>
<text x="440.00" y="673.40" font-size="18.7" text-anchor="end" fill="#3a3a3a" transform="rotate(-45 440.00 673.40)"  stroke="#3a3a3a" stroke-width="0.3">Mild</text>
<text x="490.50" y="673.40" font-size="18.7" text-anchor="end" fill="#3a3a3a" transform="rotate(-45 490.50 673.40)"  stroke="#3a3a3a" stroke-width="0.3">Severe</text>
<text x="309.00" y="546.00" font-size="18.4" text-anchor="middle" fill="#3a3a3a" transform="rotate(-90 309.00 546.00)"  stroke="#3a3a3a" stroke-width="0.3">Hippocampal volume (mL)</text>
<text x="336.40" y="736.90" font-size="18.4" text-anchor="start" fill="#3a3a3a"  stroke="#3a3a3a" stroke-width="0.3">Designated AD severity</text>
<path d="M434.4,423.7 L434.4,418.4 L485.2,418.4 L485.2,423.7" stroke="#222" stroke-width="1.5" fill="none" />
<path d="M383.6,442.0 L383.6,436.7 L485.2,436.7 L485.2,442.0" stroke="#222" stroke-width="1.5" fill="none" />
<path d="M383.6,454.6 L383.6,449.3 L434.4,449.3 L434.4,454.6" stroke="#222" stroke-width="1.5" fill="none" />
<text x="460.50" y="422.80" font-size="20.6" text-anchor="middle" fill="#333" letter-spacing="0.8" stroke="#333" stroke-width="0.35">*</text>
<text x="434.60" y="441.10" font-size="20.6" text-anchor="middle" fill="#333" letter-spacing="0.8" stroke="#333" stroke-width="0.35">***</text>
<text x="410.00" y="453.90" font-size="20.6" text-anchor="middle" fill="#333" letter-spacing="0.8" stroke="#333" stroke-width="0.35">*</text>
<text x="532.80" y="407.40" font-size="22" text-anchor="start" fill="#222" font-weight="bold" stroke="#222" stroke-width="0.6">F</text>
<circle cx="658.1" cy="468.9" r="2.15" fill="#5fa0e6"/>
<circle cx="658.1" cy="478.6" r="2.15" fill="#5fa0e6"/>
<circle cx="658.1" cy="483.5" r="2.15" fill="#5fa0e6"/>
<circle cx="662.5" cy="501.1" r="2.15" fill="#5fa0e6"/>
<circle cx="653.6" cy="504.9" r="2.15" fill="#5fa0e6"/>
<circle cx="643.3" cy="511.0" r="2.15" fill="#5fa0e6"/>
<circle cx="653.3" cy="512.6" r="2.15" fill="#5fa0e6"/>
<circle cx="663.0" cy="512.2" r="2.15" fill="#5fa0e6"/>
<circle cx="673.0" cy="508.9" r="2.15" fill="#5fa0e6"/>
<circle cx="643.3" cy="517.1" r="2.15" fill="#5fa0e6"/>
<circle cx="650.8" cy="519.0" r="2.15" fill="#5fa0e6"/>
<circle cx="658.1" cy="521.4" r="2.15" fill="#5fa0e6"/>
<circle cx="665.4" cy="519.5" r="2.15" fill="#5fa0e6"/>
<circle cx="673.0" cy="517.1" r="2.15" fill="#5fa0e6"/>
<circle cx="649.2" cy="525.1" r="2.15" fill="#5fa0e6"/>
<circle cx="658.1" cy="528.3" r="2.15" fill="#5fa0e6"/>
<circle cx="667.0" cy="526.5" r="2.15" fill="#5fa0e6"/>
<circle cx="643.6" cy="531.6" r="2.15" fill="#5fa0e6"/>
<circle cx="673.0" cy="532.0" r="2.15" fill="#5fa0e6"/>
<circle cx="650.8" cy="535.6" r="2.15" fill="#5fa0e6"/>
<circle cx="658.1" cy="538.0" r="2.15" fill="#5fa0e6"/>
<circle cx="665.4" cy="536.5" r="2.15" fill="#5fa0e6"/>
<circle cx="649.2" cy="542.3" r="2.15" fill="#5fa0e6"/>
<circle cx="667.0" cy="542.9" r="2.15" fill="#5fa0e6"/>
<circle cx="643.6" cy="546.2" r="2.15" fill="#5fa0e6"/>
<circle cx="673.0" cy="547.1" r="2.15" fill="#5fa0e6"/>
<circle cx="643.6" cy="552.2" r="2.15" fill="#5fa0e6"/>
<circle cx="650.8" cy="550.5" r="2.15" fill="#5fa0e6"/>
<circle cx="658.1" cy="552.0" r="2.15" fill="#5fa0e6"/>
<circle cx="665.4" cy="550.5" r="2.15" fill="#5fa0e6"/>
<circle cx="667.0" cy="554.4" r="2.15" fill="#5fa0e6"/>
<circle cx="673.0" cy="552.0" r="2.15" fill="#5fa0e6"/>
<circle cx="649.2" cy="558.3" r="2.15" fill="#5fa0e6"/>
<circle cx="655.2" cy="560.2" r="2.15" fill="#5fa0e6"/>
<circle cx="661.3" cy="559.8" r="2.15" fill="#5fa0e6"/>
<circle cx="653.6" cy="566.3" r="2.15" fill="#5fa0e6"/>
<circle cx="662.5" cy="565.5" r="2.15" fill="#5fa0e6"/>
<circle cx="643.3" cy="569.5" r="2.15" fill="#5fa0e6"/>
<circle cx="650.8" cy="572.6" r="2.15" fill="#5fa0e6"/>
<circle cx="658.1" cy="574.0" r="2.15" fill="#5fa0e6"/>
<circle cx="665.4" cy="573.2" r="2.15" fill="#5fa0e6"/>
<circle cx="673.0" cy="572.3" r="2.15" fill="#5fa0e6"/>
<circle cx="643.3" cy="580.1" r="2.15" fill="#5fa0e6"/>
<circle cx="653.0" cy="581.7" r="2.15" fill="#5fa0e6"/>
<circle cx="663.0" cy="581.1" r="2.15" fill="#5fa0e6"/>
<circle cx="673.0" cy="578.6" r="2.15" fill="#5fa0e6"/>
<circle cx="658.1" cy="587.7" r="2.15" fill="#5fa0e6"/>
<circle cx="658.1" cy="592.9" r="2.15" fill="#5fa0e6"/>
<circle cx="658.1" cy="602.3" r="2.15" fill="#5fa0e6"/>
<rect x="707.7" y="506.8" width="4.2" height="4.2" fill="#cd78f4"/>
<rect x="707.7" y="521.5" width="4.2" height="4.2" fill="#cd78f4"/>
<rect x="698.7" y="529.4" width="4.2" height="4.2" fill="#cd78f4"/>
<rect x="707.7" y="534.1" width="4.2" height="4.2" fill="#cd78f4"/>
<rect x="716.6" y="533.6" width="4.2" height="4.2" fill="#cd78f4"/>
<rect x="707.7" y="546.4" width="4.2" height="4.2" fill="#cd78f4"/>
<rect x="712.2" y="561.5" width="4.2" height="4.2" fill="#cd78f4"/>
<rect x="703.4" y="565.6" width="4.2" height="4.2" fill="#cd78f4"/>
<rect x="707.7" y="581.9" width="4.2" height="4.2" fill="#cd78f4"/>
<rect x="707.7" y="590.7" width="4.2" height="4.2" fill="#cd78f4"/>
<rect x="707.7" y="621.5" width="4.2" height="4.2" fill="#cd78f4"/>
<circle cx="761.6" cy="495.9" r="2.15" fill="#ec7c72"/>
<circle cx="761.6" cy="508.1" r="2.15" fill="#ec7c72"/>
<circle cx="761.6" cy="526.2" r="2.15" fill="#ec7c72"/>
<circle cx="752.6" cy="531.6" r="2.15" fill="#ec7c72"/>
<circle cx="761.6" cy="534.6" r="2.15" fill="#ec7c72"/>
<circle cx="770.4" cy="534.0" r="2.15" fill="#ec7c72"/>
<circle cx="752.6" cy="542.9" r="2.15" fill="#ec7c72"/>
<circle cx="761.6" cy="545.1" r="2.15" fill="#ec7c72"/>
<circle cx="770.4" cy="543.3" r="2.15" fill="#ec7c72"/>
<circle cx="752.6" cy="550.0" r="2.15" fill="#ec7c72"/>
<circle cx="761.6" cy="551.0" r="2.15" fill="#ec7c72"/>
<circle cx="770.4" cy="550.2" r="2.15" fill="#ec7c72"/>
<circle cx="747.0" cy="554.8" r="2.15" fill="#ec7c72"/>
<circle cx="766.6" cy="555.5" r="2.15" fill="#ec7c72"/>
<circle cx="776.3" cy="553.7" r="2.15" fill="#ec7c72"/>
<circle cx="756.7" cy="558.8" r="2.15" fill="#ec7c72"/>
<circle cx="761.6" cy="565.0" r="2.15" fill="#ec7c72"/>
<circle cx="761.6" cy="571.0" r="2.15" fill="#ec7c72"/>
<circle cx="747.0" cy="573.6" r="2.15" fill="#ec7c72"/>
<circle cx="776.3" cy="573.4" r="2.15" fill="#ec7c72"/>
<circle cx="751.3" cy="575.8" r="2.15" fill="#ec7c72"/>
<circle cx="755.3" cy="577.7" r="2.15" fill="#ec7c72"/>
<circle cx="759.6" cy="580.1" r="2.15" fill="#ec7c72"/>
<circle cx="763.9" cy="578.5" r="2.15" fill="#ec7c72"/>
<circle cx="768.2" cy="576.6" r="2.15" fill="#ec7c72"/>
<circle cx="772.6" cy="575.6" r="2.15" fill="#ec7c72"/>
<circle cx="747.0" cy="584.6" r="2.15" fill="#ec7c72"/>
<circle cx="751.5" cy="584.9" r="2.15" fill="#ec7c72"/>
<circle cx="756.7" cy="586.5" r="2.15" fill="#ec7c72"/>
<circle cx="771.5" cy="585.7" r="2.15" fill="#ec7c72"/>
<circle cx="776.3" cy="584.9" r="2.15" fill="#ec7c72"/>
<circle cx="761.6" cy="590.6" r="2.15" fill="#ec7c72"/>
<circle cx="766.6" cy="590.3" r="2.15" fill="#ec7c72"/>
<circle cx="747.0" cy="595.0" r="2.15" fill="#ec7c72"/>
<circle cx="752.6" cy="595.4" r="2.15" fill="#ec7c72"/>
<circle cx="758.5" cy="597.3" r="2.15" fill="#ec7c72"/>
<circle cx="764.5" cy="596.0" r="2.15" fill="#ec7c72"/>
<circle cx="770.4" cy="595.2" r="2.15" fill="#ec7c72"/>
<circle cx="776.3" cy="594.3" r="2.15" fill="#ec7c72"/>
<circle cx="776.5" cy="602.9" r="2.15" fill="#ec7c72"/>
<circle cx="746.7" cy="606.2" r="2.15" fill="#ec7c72"/>
<circle cx="756.7" cy="609.0" r="2.15" fill="#ec7c72"/>
<circle cx="766.6" cy="606.8" r="2.15" fill="#ec7c72"/>
<circle cx="761.6" cy="617.8" r="2.15" fill="#ec7c72"/>
<circle cx="761.6" cy="622.6" r="2.15" fill="#ec7c72"/>
<circle cx="766.1" cy="626.9" r="2.15" fill="#ec7c72"/>
<circle cx="756.9" cy="629.6" r="2.15" fill="#ec7c72"/>
<line x1="658.10" y1="469.30" x2="658.10" y2="520.20" stroke="#1e1e1e" stroke-width="1.5" />
<line x1="658.10" y1="566.50" x2="658.10" y2="602.30" stroke="#1e1e1e" stroke-width="1.5" />
<line x1="649.30" y1="469.30" x2="666.90" y2="469.30" stroke="#1e1e1e" stroke-width="1.5" />
<line x1="649.30" y1="602.30" x2="666.90" y2="602.30" stroke="#1e1e1e" stroke-width="1.5" />
<rect x="641.4" y="520.2" width="33.4" height="46.3" fill="none" stroke="#1e1e1e" stroke-width="1.5"/>
<line x1="641.40" y1="544.50" x2="674.80" y2="544.50" stroke="#1e1e1e" stroke-width="1.5" />
<line x1="653.90" y1="543.50" x2="662.30" y2="543.50" stroke="#1e1e1e" stroke-width="1.5" />
<line x1="658.10" y1="539.50" x2="658.10" y2="547.50" stroke="#1e1e1e" stroke-width="1.5" />
<line x1="709.90" y1="509.20" x2="709.90" y2="533.40" stroke="#1e1e1e" stroke-width="1.5" />
<line x1="709.90" y1="579.10" x2="709.90" y2="623.60" stroke="#1e1e1e" stroke-width="1.5" />
<line x1="701.10" y1="509.20" x2="718.70" y2="509.20" stroke="#1e1e1e" stroke-width="1.5" />
<line x1="701.10" y1="623.60" x2="718.70" y2="623.60" stroke="#1e1e1e" stroke-width="1.5" />
<rect x="693.2" y="533.4" width="33.4" height="45.7" fill="none" stroke="#1e1e1e" stroke-width="1.5"/>
<line x1="693.20" y1="552.60" x2="726.60" y2="552.60" stroke="#1e1e1e" stroke-width="1.5" />
<line x1="705.70" y1="556.40" x2="714.10" y2="556.40" stroke="#1e1e1e" stroke-width="1.5" />
<line x1="709.90" y1="552.40" x2="709.90" y2="560.40" stroke="#1e1e1e" stroke-width="1.5" />
<line x1="761.70" y1="496.60" x2="761.70" y2="551.60" stroke="#1e1e1e" stroke-width="1.5" />
<line x1="761.70" y1="594.10" x2="761.70" y2="629.60" stroke="#1e1e1e" stroke-width="1.5" />
<line x1="752.90" y1="496.60" x2="770.50" y2="496.60" stroke="#1e1e1e" stroke-width="1.5" />
<line x1="752.90" y1="629.60" x2="770.50" y2="629.60" stroke="#1e1e1e" stroke-width="1.5" />
<rect x="745.0" y="551.6" width="33.4" height="42.5" fill="none" stroke="#1e1e1e" stroke-width="1.5"/>
<line x1="745.00" y1="577.70" x2="778.40" y2="577.70" stroke="#1e1e1e" stroke-width="1.5" />
<line x1="757.50" y1="574.50" x2="765.90" y2="574.50" stroke="#1e1e1e" stroke-width="1.5" />
<line x1="761.70" y1="570.50" x2="761.70" y2="578.50" stroke="#1e1e1e" stroke-width="1.5" />
<line x1="624.50" y1="434.90" x2="624.50" y2="658.90" stroke="#1a1a1a" stroke-width="1.5" />
<line x1="618.40" y1="658.20" x2="795.80" y2="658.20" stroke="#1a1a1a" stroke-width="1.5" />
<line x1="618.40" y1="658.20" x2="624.50" y2="658.20" stroke="#1a1a1a" stroke-width="1.5" />
<text x="614.50" y="662.70" font-size="16" text-anchor="end" fill="#3a3a3a"  stroke="#3a3a3a" stroke-width="0.3">400</text>
<line x1="618.40" y1="594.00" x2="624.50" y2="594.00" stroke="#1a1a1a" stroke-width="1.5" />
<text x="614.50" y="598.50" font-size="16" text-anchor="end" fill="#3a3a3a"  stroke="#3a3a3a" stroke-width="0.3">500</text>
<line x1="618.40" y1="529.80" x2="624.50" y2="529.80" stroke="#1a1a1a" stroke-width="1.5" />
<text x="614.50" y="534.30" font-size="16" text-anchor="end" fill="#3a3a3a"  stroke="#3a3a3a" stroke-width="0.3">600</text>
<line x1="618.40" y1="465.60" x2="624.50" y2="465.60" stroke="#1a1a1a" stroke-width="1.5" />
<text x="614.50" y="470.10" font-size="16" text-anchor="end" fill="#3a3a3a"  stroke="#3a3a3a" stroke-width="0.3">700</text>
<line x1="658.10" y1="658.20" x2="658.10" y2="663.60" stroke="#1a1a1a" stroke-width="1.5" />
<line x1="709.90" y1="658.20" x2="709.90" y2="663.60" stroke="#1a1a1a" stroke-width="1.5" />
<line x1="761.70" y1="658.20" x2="761.70" y2="663.60" stroke="#1a1a1a" stroke-width="1.5" />
<text x="660.80" y="673.40" font-size="18.7" text-anchor="end" fill="#3a3a3a" transform="rotate(-45 660.80 673.40)"  stroke="#3a3a3a" stroke-width="0.3">Normal</text>
<text x="715.40" y="673.40" font-size="18.7" text-anchor="end" fill="#3a3a3a" transform="rotate(-45 715.40 673.40)"  stroke="#3a3a3a" stroke-width="0.3">Mild</text>
<text x="765.70" y="673.40" font-size="18.7" text-anchor="end" fill="#3a3a3a" transform="rotate(-45 765.70 673.40)"  stroke="#3a3a3a" stroke-width="0.3">Severe</text>
<text x="572.80" y="546.00" font-size="18.4" text-anchor="middle" fill="#3a3a3a" transform="rotate(-90 572.80 546.00)"  stroke="#3a3a3a" stroke-width="0.3">Gray matter volume (mL)</text>
<text x="612.00" y="736.90" font-size="18.4" text-anchor="start" fill="#3a3a3a"  stroke="#3a3a3a" stroke-width="0.3">Designated AD severity</text>
<path d="M659.2,424.5 L659.2,419.2 L760.6,419.2 L760.6,424.5" stroke="#222" stroke-width="1.5" fill="none" />
<text x="710.10" y="422.70" font-size="20.6" text-anchor="middle" fill="#333" letter-spacing="0.8" stroke="#333" stroke-width="0.35">***</text>
<text x="809.80" y="407.70" font-size="22" text-anchor="start" fill="#222" font-weight="bold" stroke="#222" stroke-width="0.6">G</text>
<circle cx="928.5" cy="493.4" r="2.15" fill="#5fa0e6"/>
<circle cx="924.0" cy="507.3" r="2.15" fill="#5fa0e6"/>
<circle cx="933.0" cy="505.2" r="2.15" fill="#5fa0e6"/>
<circle cx="928.5" cy="516.4" r="2.15" fill="#5fa0e6"/>
<circle cx="928.5" cy="532.2" r="2.15" fill="#5fa0e6"/>
<circle cx="928.5" cy="536.7" r="2.15" fill="#5fa0e6"/>
<circle cx="928.5" cy="550.0" r="2.15" fill="#5fa0e6"/>
<circle cx="924.0" cy="556.7" r="2.15" fill="#5fa0e6"/>
<circle cx="933.0" cy="556.7" r="2.15" fill="#5fa0e6"/>
<circle cx="924.0" cy="572.8" r="2.15" fill="#5fa0e6"/>
<circle cx="933.0" cy="570.2" r="2.15" fill="#5fa0e6"/>
<circle cx="928.5" cy="583.3" r="2.15" fill="#5fa0e6"/>
<circle cx="913.8" cy="586.0" r="2.15" fill="#5fa0e6"/>
<circle cx="921.0" cy="588.2" r="2.15" fill="#5fa0e6"/>
<circle cx="943.3" cy="586.0" r="2.15" fill="#5fa0e6"/>
<circle cx="936.1" cy="590.5" r="2.15" fill="#5fa0e6"/>
<circle cx="913.8" cy="592.8" r="2.15" fill="#5fa0e6"/>
<circle cx="921.0" cy="594.6" r="2.15" fill="#5fa0e6"/>
<circle cx="928.5" cy="597.3" r="2.15" fill="#5fa0e6"/>
<circle cx="936.1" cy="596.2" r="2.15" fill="#5fa0e6"/>
<circle cx="943.3" cy="592.8" r="2.15" fill="#5fa0e6"/>
<circle cx="919.6" cy="601.6" r="2.15" fill="#5fa0e6"/>
<circle cx="928.5" cy="604.0" r="2.15" fill="#5fa0e6"/>
<circle cx="937.5" cy="601.6" r="2.15" fill="#5fa0e6"/>
<circle cx="913.8" cy="605.9" r="2.15" fill="#5fa0e6"/>
<circle cx="918.5" cy="605.9" r="2.15" fill="#5fa0e6"/>
<circle cx="923.5" cy="608.6" r="2.15" fill="#5fa0e6"/>
<circle cx="928.5" cy="610.2" r="2.15" fill="#5fa0e6"/>
<circle cx="933.4" cy="608.6" r="2.15" fill="#5fa0e6"/>
<circle cx="938.6" cy="608.6" r="2.15" fill="#5fa0e6"/>
<circle cx="943.3" cy="605.9" r="2.15" fill="#5fa0e6"/>
<circle cx="923.9" cy="615.1" r="2.15" fill="#5fa0e6"/>
<circle cx="932.9" cy="615.1" r="2.15" fill="#5fa0e6"/>
<circle cx="913.5" cy="619.9" r="2.15" fill="#5fa0e6"/>
<circle cx="923.5" cy="621.0" r="2.15" fill="#5fa0e6"/>
<circle cx="933.4" cy="619.7" r="2.15" fill="#5fa0e6"/>
<circle cx="943.3" cy="619.9" r="2.15" fill="#5fa0e6"/>
<circle cx="928.5" cy="626.6" r="2.15" fill="#5fa0e6"/>
<circle cx="923.9" cy="635.6" r="2.15" fill="#5fa0e6"/>
<circle cx="932.9" cy="633.1" r="2.15" fill="#5fa0e6"/>
<circle cx="928.5" cy="639.9" r="2.15" fill="#5fa0e6"/>
<rect x="978.3" y="524.6" width="4.2" height="4.2" fill="#cd78f4"/>
<rect x="978.3" y="538.6" width="4.2" height="4.2" fill="#cd78f4"/>
<rect x="973.5" y="556.7" width="4.2" height="4.2" fill="#cd78f4"/>
<rect x="982.7" y="556.7" width="4.2" height="4.2" fill="#cd78f4"/>
<rect x="973.5" y="586.0" width="4.2" height="4.2" fill="#cd78f4"/>
<rect x="982.7" y="583.8" width="4.2" height="4.2" fill="#cd78f4"/>
<rect x="982.7" y="617.5" width="4.2" height="4.2" fill="#cd78f4"/>
<rect x="973.5" y="621.9" width="4.2" height="4.2" fill="#cd78f4"/>
<circle cx="1032.0" cy="452.8" r="2.15" fill="#ec7c72"/>
<circle cx="1023.1" cy="457.8" r="2.15" fill="#ec7c72"/>
<circle cx="1041.0" cy="459.9" r="2.15" fill="#ec7c72"/>
<circle cx="1032.0" cy="462.2" r="2.15" fill="#ec7c72"/>
<circle cx="1032.0" cy="466.9" r="2.15" fill="#ec7c72"/>
<circle cx="1023.1" cy="511.6" r="2.15" fill="#ec7c72"/>
<circle cx="1032.0" cy="514.0" r="2.15" fill="#ec7c72"/>
<circle cx="1041.0" cy="513.7" r="2.15" fill="#ec7c72"/>
<circle cx="1027.6" cy="522.7" r="2.15" fill="#ec7c72"/>
<circle cx="1036.6" cy="520.7" r="2.15" fill="#ec7c72"/>
<circle cx="1032.0" cy="529.9" r="2.15" fill="#ec7c72"/>
<circle cx="1032.3" cy="539.6" r="2.15" fill="#ec7c72"/>
<circle cx="1032.3" cy="541.1" r="2.15" fill="#ec7c72"/>
<circle cx="1017.0" cy="544.8" r="2.15" fill="#ec7c72"/>
<circle cx="1047.1" cy="544.8" r="2.15" fill="#ec7c72"/>
<circle cx="1027.0" cy="550.0" r="2.15" fill="#ec7c72"/>
<circle cx="1037.0" cy="548.1" r="2.15" fill="#ec7c72"/>
<circle cx="1032.3" cy="554.4" r="2.15" fill="#ec7c72"/>
<circle cx="1047.1" cy="558.4" r="2.15" fill="#ec7c72"/>
<circle cx="1017.5" cy="561.1" r="2.15" fill="#ec7c72"/>
<circle cx="1027.0" cy="561.1" r="2.15" fill="#ec7c72"/>
<circle cx="1037.0" cy="561.1" r="2.15" fill="#ec7c72"/>
<circle cx="1021.9" cy="565.6" r="2.15" fill="#ec7c72"/>
<circle cx="1032.3" cy="568.2" r="2.15" fill="#ec7c72"/>
<circle cx="1037.3" cy="568.2" r="2.15" fill="#ec7c72"/>
<circle cx="1042.2" cy="565.6" r="2.15" fill="#ec7c72"/>
<circle cx="1047.1" cy="565.6" r="2.15" fill="#ec7c72"/>
<circle cx="1023.0" cy="572.7" r="2.15" fill="#ec7c72"/>
<circle cx="1041.2" cy="574.4" r="2.15" fill="#ec7c72"/>
<circle cx="1032.3" cy="577.1" r="2.15" fill="#ec7c72"/>
<circle cx="1027.4" cy="583.6" r="2.15" fill="#ec7c72"/>
<circle cx="1036.7" cy="583.6" r="2.15" fill="#ec7c72"/>
<circle cx="1017.5" cy="588.1" r="2.15" fill="#ec7c72"/>
<circle cx="1037.3" cy="588.5" r="2.15" fill="#ec7c72"/>
<circle cx="1047.1" cy="586.0" r="2.15" fill="#ec7c72"/>
<circle cx="1027.0" cy="590.4" r="2.15" fill="#ec7c72"/>
<circle cx="1032.3" cy="599.3" r="2.15" fill="#ec7c72"/>
<circle cx="1017.5" cy="604.1" r="2.15" fill="#ec7c72"/>
<circle cx="1027.0" cy="604.1" r="2.15" fill="#ec7c72"/>
<circle cx="1037.0" cy="604.1" r="2.15" fill="#ec7c72"/>
<circle cx="1047.1" cy="604.1" r="2.15" fill="#ec7c72"/>
<circle cx="1032.3" cy="610.7" r="2.15" fill="#ec7c72"/>
<circle cx="1023.0" cy="617.7" r="2.15" fill="#ec7c72"/>
<circle cx="1032.3" cy="617.7" r="2.15" fill="#ec7c72"/>
<circle cx="1041.2" cy="617.4" r="2.15" fill="#ec7c72"/>
<circle cx="1017.0" cy="624.1" r="2.15" fill="#ec7c72"/>
<circle cx="1024.9" cy="626.3" r="2.15" fill="#ec7c72"/>
<circle cx="1032.3" cy="629.0" r="2.15" fill="#ec7c72"/>
<circle cx="1039.7" cy="628.5" r="2.15" fill="#ec7c72"/>
<circle cx="1047.1" cy="626.6" r="2.15" fill="#ec7c72"/>
<line x1="928.60" y1="493.90" x2="928.60" y2="572.60" stroke="#1e1e1e" stroke-width="1.5" />
<line x1="928.60" y1="611.30" x2="928.60" y2="639.70" stroke="#1e1e1e" stroke-width="1.5" />
<line x1="919.80" y1="493.90" x2="937.40" y2="493.90" stroke="#1e1e1e" stroke-width="1.5" />
<line x1="919.80" y1="639.70" x2="937.40" y2="639.70" stroke="#1e1e1e" stroke-width="1.5" />
<rect x="911.9" y="572.6" width="33.4" height="38.7" fill="none" stroke="#1e1e1e" stroke-width="1.5"/>
<line x1="911.90" y1="596.80" x2="945.30" y2="596.80" stroke="#1e1e1e" stroke-width="1.5" />
<line x1="924.40" y1="588.20" x2="932.80" y2="588.20" stroke="#1e1e1e" stroke-width="1.5" />
<line x1="928.60" y1="584.20" x2="928.60" y2="592.20" stroke="#1e1e1e" stroke-width="1.5" />
<line x1="980.40" y1="527.10" x2="980.40" y2="546.40" stroke="#1e1e1e" stroke-width="1.5" />
<line x1="980.40" y1="610.80" x2="980.40" y2="623.70" stroke="#1e1e1e" stroke-width="1.5" />
<line x1="971.60" y1="527.10" x2="989.20" y2="527.10" stroke="#1e1e1e" stroke-width="1.5" />
<line x1="971.60" y1="623.70" x2="989.20" y2="623.70" stroke="#1e1e1e" stroke-width="1.5" />
<rect x="963.7" y="546.4" width="33.4" height="64.4" fill="none" stroke="#1e1e1e" stroke-width="1.5"/>
<line x1="963.70" y1="572.30" x2="997.10" y2="572.30" stroke="#1e1e1e" stroke-width="1.5" />
<line x1="976.20" y1="575.60" x2="984.60" y2="575.60" stroke="#1e1e1e" stroke-width="1.5" />
<line x1="980.40" y1="571.60" x2="980.40" y2="579.60" stroke="#1e1e1e" stroke-width="1.5" />
<line x1="1032.30" y1="453.50" x2="1032.30" y2="545.60" stroke="#1e1e1e" stroke-width="1.5" />
<line x1="1032.30" y1="603.00" x2="1032.30" y2="628.50" stroke="#1e1e1e" stroke-width="1.5" />
<line x1="1023.50" y1="453.50" x2="1041.10" y2="453.50" stroke="#1e1e1e" stroke-width="1.5" />
<line x1="1023.50" y1="628.50" x2="1041.10" y2="628.50" stroke="#1e1e1e" stroke-width="1.5" />
<rect x="1015.6" y="545.6" width="33.4" height="57.4" fill="none" stroke="#1e1e1e" stroke-width="1.5"/>
<line x1="1015.60" y1="565.30" x2="1049.00" y2="565.30" stroke="#1e1e1e" stroke-width="1.5" />
<line x1="1028.10" y1="564.40" x2="1036.50" y2="564.40" stroke="#1e1e1e" stroke-width="1.5" />
<line x1="1032.30" y1="560.40" x2="1032.30" y2="568.40" stroke="#1e1e1e" stroke-width="1.5" />
<line x1="894.50" y1="433.60" x2="894.50" y2="658.90" stroke="#1a1a1a" stroke-width="1.5" />
<line x1="888.50" y1="658.20" x2="1067.40" y2="658.20" stroke="#1a1a1a" stroke-width="1.5" />
<line x1="888.50" y1="658.20" x2="894.50" y2="658.20" stroke="#1a1a1a" stroke-width="1.5" />
<text x="884.90" y="662.70" font-size="16" text-anchor="end" fill="#3a3a3a"  stroke="#3a3a3a" stroke-width="0.3">3</text>
<line x1="888.50" y1="590.40" x2="894.50" y2="590.40" stroke="#1a1a1a" stroke-width="1.5" />
<text x="884.90" y="594.90" font-size="16" text-anchor="end" fill="#3a3a3a"  stroke="#3a3a3a" stroke-width="0.3">6</text>
<line x1="888.50" y1="522.60" x2="894.50" y2="522.60" stroke="#1a1a1a" stroke-width="1.5" />
<text x="884.90" y="527.10" font-size="16" text-anchor="end" fill="#3a3a3a"  stroke="#3a3a3a" stroke-width="0.3">9</text>
<line x1="888.50" y1="454.80" x2="894.50" y2="454.80" stroke="#1a1a1a" stroke-width="1.5" />
<text x="884.90" y="459.30" font-size="16" text-anchor="end" fill="#3a3a3a"  stroke="#3a3a3a" stroke-width="0.3">12</text>
<line x1="928.90" y1="658.20" x2="928.90" y2="663.40" stroke="#1a1a1a" stroke-width="1.5" />
<line x1="980.60" y1="658.20" x2="980.60" y2="663.40" stroke="#1a1a1a" stroke-width="1.5" />
<line x1="1032.60" y1="658.20" x2="1032.60" y2="663.40" stroke="#1a1a1a" stroke-width="1.5" />
<text x="931.60" y="673.40" font-size="18.7" text-anchor="end" fill="#3a3a3a" transform="rotate(-45 931.60 673.40)"  stroke="#3a3a3a" stroke-width="0.3">Normal</text>
<text x="986.10" y="673.40" font-size="18.7" text-anchor="end" fill="#3a3a3a" transform="rotate(-45 986.10 673.40)"  stroke="#3a3a3a" stroke-width="0.3">Mild</text>
<text x="1036.60" y="673.40" font-size="18.7" text-anchor="end" fill="#3a3a3a" transform="rotate(-45 1036.60 673.40)"  stroke="#3a3a3a" stroke-width="0.3">Severe</text>
<text x="849.50" y="546.00" font-size="18.4" text-anchor="middle" fill="#3a3a3a" transform="rotate(-90 849.50 546.00)"  stroke="#3a3a3a" stroke-width="0.3">White blood cell counts (K/uL)</text>
<text x="883.50" y="736.90" font-size="18.4" text-anchor="start" fill="#3a3a3a"  stroke="#3a3a3a" stroke-width="0.3">Designated AD severity</text>
<path d="M928.7,424.1 L928.7,418.8 L1031.8,418.8 L1031.8,424.1" stroke="#222" stroke-width="1.5" fill="none" />
<text x="980.90" y="422.70" font-size="20.6" text-anchor="middle" fill="#333" letter-spacing="0.8" stroke="#333" stroke-width="0.35">**</text>
</svg></body></html>
